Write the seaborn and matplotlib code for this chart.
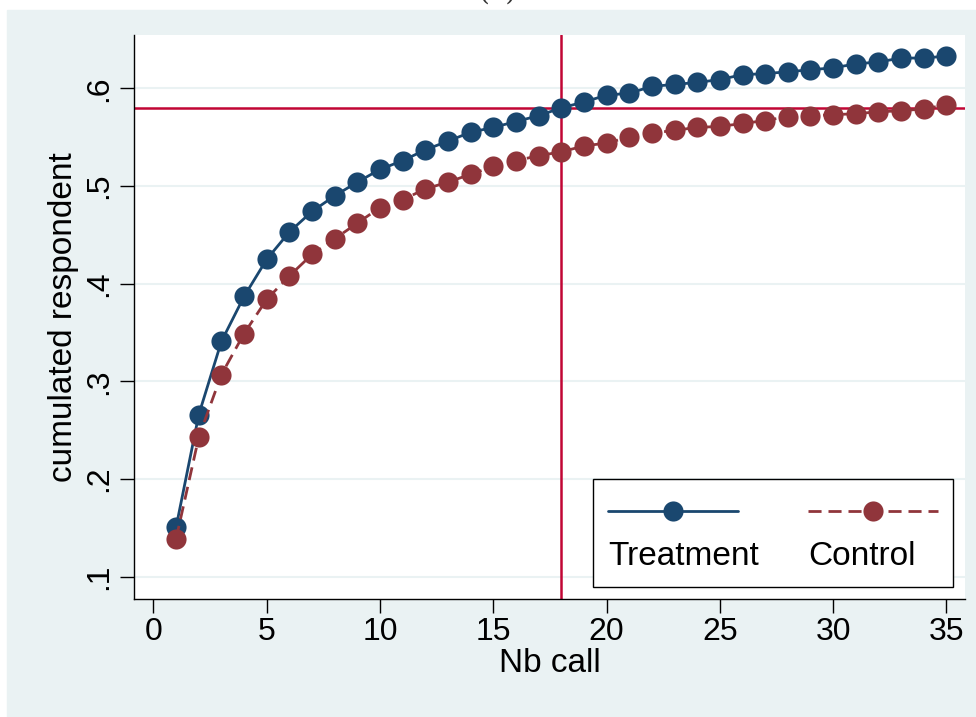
import matplotlib
matplotlib.use("Agg")
import matplotlib.pyplot as plt
from matplotlib.patches import Rectangle
from matplotlib.lines import Line2D
from matplotlib.offsetbox import AnchoredOffsetbox, DrawingArea, TextArea, VPacker, HPacker
import seaborn as sns
import pandas as pd

# values
nb_call = list(range(1, 36))
treatment = [0.151, 0.266, 0.341, 0.387, 0.425, 0.453, 0.474, 0.490, 0.504, 0.517,
             0.526, 0.537, 0.546, 0.555, 0.560, 0.566, 0.572, 0.580, 0.586, 0.593,
             0.595, 0.602, 0.604, 0.606, 0.609, 0.614, 0.615, 0.617, 0.619, 0.621,
             0.625, 0.627, 0.631, 0.631, 0.633]
control = [0.139, 0.243, 0.307, 0.349, 0.384, 0.408, 0.430, 0.446, 0.462, 0.478,
           0.486, 0.497, 0.504, 0.512, 0.520, 0.526, 0.531, 0.535, 0.541, 0.544,
           0.550, 0.554, 0.557, 0.560, 0.561, 0.564, 0.567, 0.571, 0.572, 0.573,
           0.574, 0.576, 0.577, 0.579, 0.583]
groups = ["Treatment", "Control"]
colors = {"Treatment": "#1A476F", "Control": "#90353B"}
ref_x = 18
ref_y = 0.58
xticks = [0, 5, 10, 15, 20, 25, 30, 35]
yticks = [0.1, 0.2, 0.3, 0.4, 0.5, 0.6]
ytick_labels = [".1", ".2", ".3", ".4", ".5", ".6"]

bg = "#EAF2F3"
refcol = "#C10534"
dash = (4.7, 2.5)

sns.set_style("white")
plt.rcParams['font.family'] = ['Liberation Sans', 'DejaVu Sans']
plt.rcParams['text.color'] = 'black'
plt.rcParams['axes.labelcolor'] = 'black'
plt.rcParams['xtick.color'] = 'black'
plt.rcParams['ytick.color'] = 'black'

df = pd.DataFrame({
    "Nb call": nb_call * 2,
    "cumulated respondent": treatment + control,
    "group": ["Treatment"] * len(nb_call) + ["Control"] * len(nb_call),
})

fig = plt.figure(figsize=(9.76, 7.17), dpi=100, facecolor="white")
fig.patches.append(Rectangle((7 / 976, 0), 1 - 7 / 976, 707 / 717,
                             transform=fig.transFigure, color=bg, zorder=-10))
fig.text(0.51, 1.0, "(a)", ha="center", va="baseline", fontsize=20,
         family="DejaVu Serif", color="#333333")

ax = fig.add_axes([134 / 976, 118 / 717, 831 / 976, 564 / 717])
ax.set_facecolor("white")

ax.axhline(ref_y, color=refcol, lw=1.8, zorder=1.5)
ax.axvline(ref_x, color=refcol, lw=1.8, zorder=1.5)

sns.lineplot(data=df, x="Nb call", y="cumulated respondent", hue="group", style="group",
             hue_order=groups, style_order=groups, palette=colors,
             markers={"Treatment": "o", "Control": "o"},
             dashes={"Treatment": "", "Control": dash},
             markersize=14.5, markeredgewidth=0, linewidth=2,
             errorbar=None, legend=False, ax=ax, zorder=3)

ax.set_xlim(-0.86, 35.82)
ax.set_ylim(0.0772, 0.6546)
ax.set_xticks(xticks)
ax.set_yticks(yticks)
ax.set_yticklabels(ytick_labels)
for lab in ax.get_yticklabels():
    lab.set_rotation(90)
    lab.set_va("center")

ax.yaxis.grid(True, color=bg, lw=1.5)
ax.xaxis.grid(False)
ax.set_axisbelow(True)

for s in ["top", "right"]:
    ax.spines[s].set_visible(False)
for s in ["left", "bottom"]:
    ax.spines[s].set_color("black")
    ax.spines[s].set_linewidth(1.0)

ax.tick_params(axis="both", direction="out", length=10, width=1, color="black",
               labelsize=23, labelcolor="black", left=True, bottom=True)
ax.tick_params(axis="y", pad=4)
ax.tick_params(axis="x", pad=3)
ax.set_xlabel("Nb call", fontsize=24, labelpad=1, color="black")
ax.set_ylabel("cumulated respondent", fontsize=24, labelpad=4, color="black")


# Stata-style legend: key on top, label below
def entry(group, width):
    da = DrawingArea(width, 23.8, 0, 0)
    ls = "-" if group == "Treatment" else (0, dash)
    da.add_artist(Line2D([0, 93.6], [11.5, 11.5], color=colors[group], lw=2, ls=ls))
    da.add_artist(Line2D([46.8], [11.5], marker="o", markersize=14.5,
                         markeredgewidth=0, color=colors[group]))
    ta = TextArea(group, textprops=dict(size=24, color="black"))
    return VPacker(children=[da, ta], align="left", pad=0, sep=10)


box = HPacker(children=[entry("Treatment", 144), entry("Control", 93.6)],
              align="top", pad=0, sep=0)
leg = AnchoredOffsetbox(loc="lower right", child=box, pad=1.08, borderpad=0,
                        frameon=True, bbox_to_anchor=(0.9856, 0.0213),
                        bbox_transform=ax.transAxes, prop=dict(size=10))
leg.patch.set_edgecolor("black")
leg.patch.set_facecolor("white")
leg.patch.set_linewidth(1.0)
leg.set_zorder(5)
ax.add_artist(leg)

fig.savefig("out.png", dpi=100)
